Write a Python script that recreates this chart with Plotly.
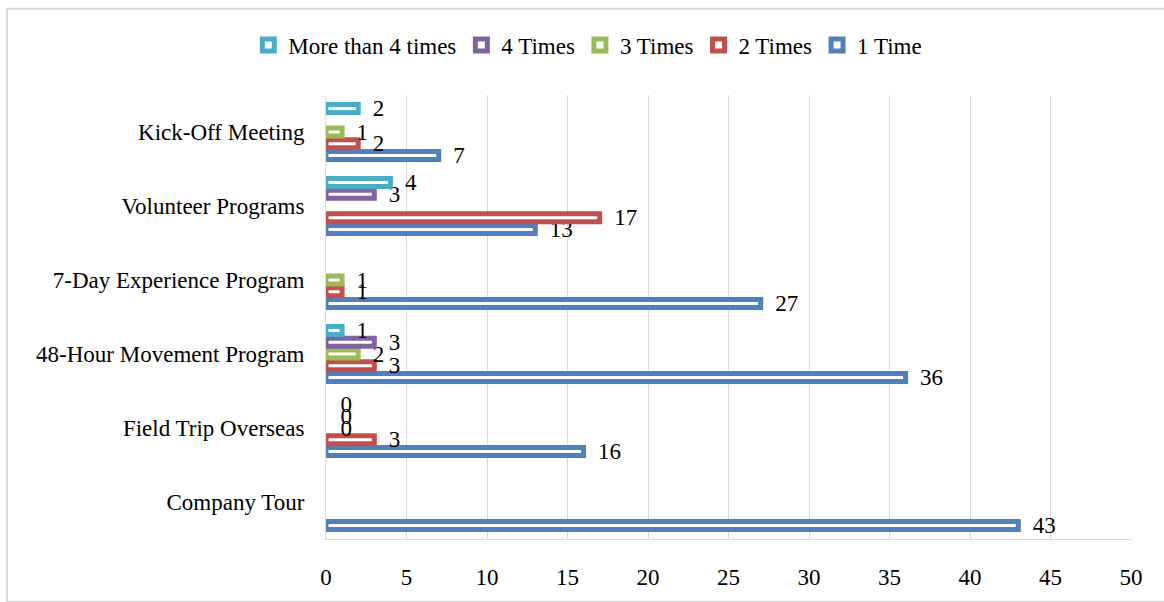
import plotly.graph_objects as go

categories = ["Kick-Off Meeting", "Volunteer Programs", "7-Day Experience Program",
              "48-Hour Movement Program", "Field Trip Overseas", "Company Tour"]
series_names = ["1 Time", "2 Times", "3 Times", "4 Times", "More than 4 times"]
one_time = [7, 13, 27, 36, 16, 43]
two_times = [2, 17, 1, 3, 3, None]
three_times = [1, None, 1, 2, 0, None]
four_times = [None, 3, None, 3, 0, None]
more_than_four = [2, 4, None, 1, 0, None]
colors = ["#4F81BD", "#C0504D", "#9BBB59", "#8064A2", "#4BACC6"]
x_ticks = [0, 5, 10, 15, 20, 25, 30, 35, 40, 45, 50]

FONT = "Liberation Serif, Times New Roman, serif"
FS = 23
series_values = [one_time, two_times, three_times, four_times, more_than_four]

fig = go.Figure()
for name, vals, col in zip(series_names, series_values, colors):
    fig.add_trace(go.Bar(
        y=categories, x=vals, name=name, orientation="h",
        marker=dict(color="white",
                    line=dict(color=col, width=[0 if v == 0 else 5 for v in vals])),
        text=[None if v is None else str(v) for v in vals],
        texttemplate="  %{text}",
        textposition="outside", constraintext="none", cliponaxis=False,
        textfont=dict(family=FONT, size=FS, color="black"),
    ))

L, R, T, B = 326, 33, 95, 54
W, H = 1164, 602
pw, ph = W - L - R, H - T - B

fig.update_layout(
    width=W, height=H, barmode="group", bargap=0.205, bargroupgap=0.333,
    paper_bgcolor="white", plot_bgcolor="white",
    margin=dict(l=L, r=R, t=T, b=B, pad=0),
    font=dict(family=FONT, size=FS, color="black"),
    legend=dict(orientation="h", traceorder="reversed", xref="container", x=0.505,
                xanchor="center", yref="container", y=1 - 45 / H, yanchor="middle",
                font=dict(family=FONT, size=FS, color="black"), itemwidth=30,
                tracegroupgap=0),
    xaxis=dict(range=[0, 50], tickvals=x_ticks, showgrid=True, gridcolor="#D9D9D9",
               gridwidth=1, zeroline=False, showline=True, linecolor="#D9D9D9",
               linewidth=1, ticks="", ticklabelstandoff=17, mirror=False,
               tickfont=dict(family=FONT, size=FS, color="black")),
    yaxis=dict(categoryorder="array", categoryarray=categories[::-1], showgrid=False,
               showline=True, linecolor="#D9D9D9", linewidth=1, ticks="",
               ticklabelstandoff=16, tickfont=dict(family=FONT, size=FS, color="black")),
    shapes=[dict(type="rect", xref="paper", yref="paper",
                 x0=(7 - L) / pw, x1=(W + 10 - L) / pw,
                 y0=-(H + 10 - (T + ph)) / ph, y1=(T + ph - 7) / ph,
                 line=dict(color="#D9D9D9", width=2), fillcolor="rgba(0,0,0,0)",
                 layer="below")],
)

fig.write_html("out.html")
